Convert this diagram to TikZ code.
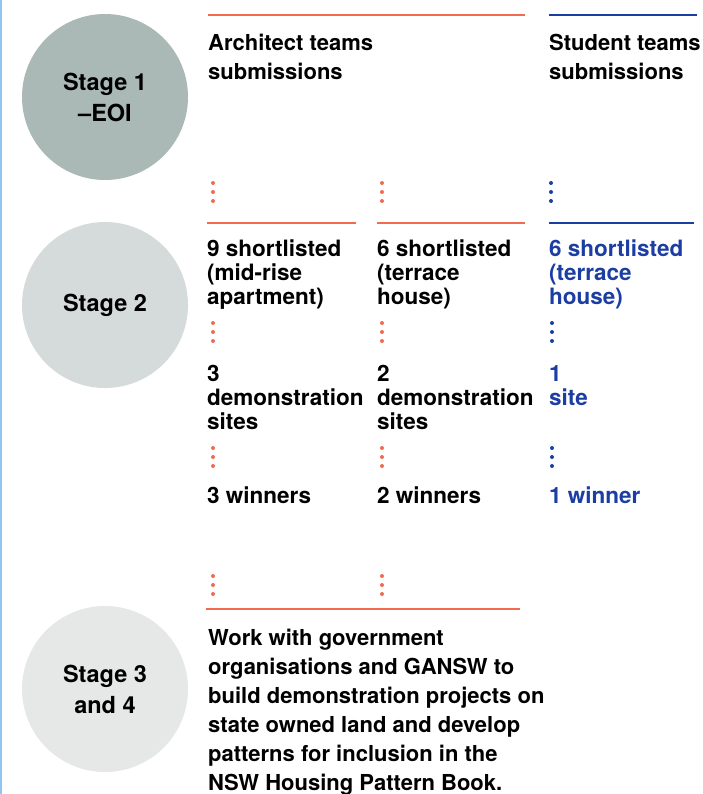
\documentclass[tikz,border=0pt]{standalone}
\usepackage{fontspec}
\setmainfont{TeX Gyre Heros}
\usetikzlibrary{positioning}

\definecolor{coral}{HTML}{F26B4F}
\definecolor{navy}{HTML}{1C3EA3}
\definecolor{sagedark}{HTML}{AAB9B5}
\definecolor{sagemid}{HTML}{D5DBDA}
\definecolor{sagelight}{HTML}{E5E8E7}
\definecolor{edgeblue}{HTML}{8FC5F2}

\begin{document}
\begin{tikzpicture}[
            x=1pt,y=-1pt,
            stage/.style={circle,minimum size=166pt,inner sep=0pt,align=center,
                font=\bfseries\fontsize{23.5}{31}\selectfont},
            head/.style={anchor=base west,inner sep=0pt,align=left,
                font=\bfseries\fontsize{22}{29}\selectfont},
            item/.style={anchor=base west,inner sep=0pt,align=left,
                font=\bfseries\fontsize{22.5}{24}\selectfont},
            body/.style={anchor=base west,inner sep=0pt,align=left,
                font=\bfseries\fontsize{22}{29}\selectfont},
            rule/.style={line width=1.3pt}
        ]
            \useasboundingbox (0,0) rectangle (703,794);
            \draw [edgeblue,line width=2pt] (1,0) -- (1,794);

            % stage circles
            \node (s1) [stage,fill=sagedark]  at (105,97)  {Stage 1\\–EOI};
            \node (s2) [stage,fill=sagemid]   at (105,305) {Stage 2};
            \node (s3) [stage,fill=sagelight] at (105,689) {Stage 3\\and 4};

            % headings (base = last line)
            \coordinate (ha) at (208,15);
            \coordinate (hb) at (525,15);
            \coordinate (hc) at (549,15);
            \coordinate (hd) at (697,15);
            \draw [rule,coral] (ha) -- (hb);
            \draw [rule,navy]  (hc) -- (hd);
            \node (arch) [head] at (208,80) {Architect teams\\submissions};
            \node (stud) [head] at (549,80) {Student teams\\submissions};

            % stage 2 columns
            \coordinate (ra) at (207,223);
            \coordinate (rb) at (356,223);
            \coordinate (rc) at (377,223);
            \coordinate (rd) at (525,223);
            \coordinate (re) at (549,223);
            \coordinate (rf) at (694,223);
            \draw [rule,coral] (ra) -- (rb);
            \draw [rule,coral] (rc) -- (rd);
            \draw [rule,navy]  (re) -- (rf);

            \node (a1) [item]      at (207,304) {9 shortlisted\\(mid-rise\\apartment)};
            \node (b1) [item]      at (377,304) {6 shortlisted\\(terrace\\house)};
            \node (c1) [item,navy] at (549,304) {6 shortlisted\\(terrace\\house)};
            \node (a2) [item]      at (207,429) {3\\demonstration\\sites};
            \node (b2) [item]      at (377,429) {2\\demonstration\\sites};
            \node (c2) [item,navy] at (549,405) {1\\site};
            \node (a3) [item]      at (207,503) {3 winners};
            \node (b3) [item]      at (377,503) {2 winners};
            \node (c3) [item,navy] at (549,503) {1 winner};

            % stage 3 and 4
            \coordinate (ta) at (206,609);
            \coordinate (tb) at (520,609);
            \draw [rule,coral] (ta) -- (tb);
            \node (work) [body] at (208,790) {Work with government\\organisations and GANSW to\\build demonstration projects on\\state owned land and develop\\patterns for inclusion in the\\NSW Housing Pattern Book.};

            % dotted steps
            \foreach \x/\y/\c in {213/183/coral,382/183/coral,551/183/navy,
                                  213/323/coral,382/323/coral,552/323/navy,
                                  213/448/coral,382/448/coral,552/448/navy,
                                  213/576/coral,382/576/coral}
                \foreach \d in {0,9,18}
                    \fill [\c] (\x,\y+\d) circle (2pt);
        \end{tikzpicture}
\end{document}
